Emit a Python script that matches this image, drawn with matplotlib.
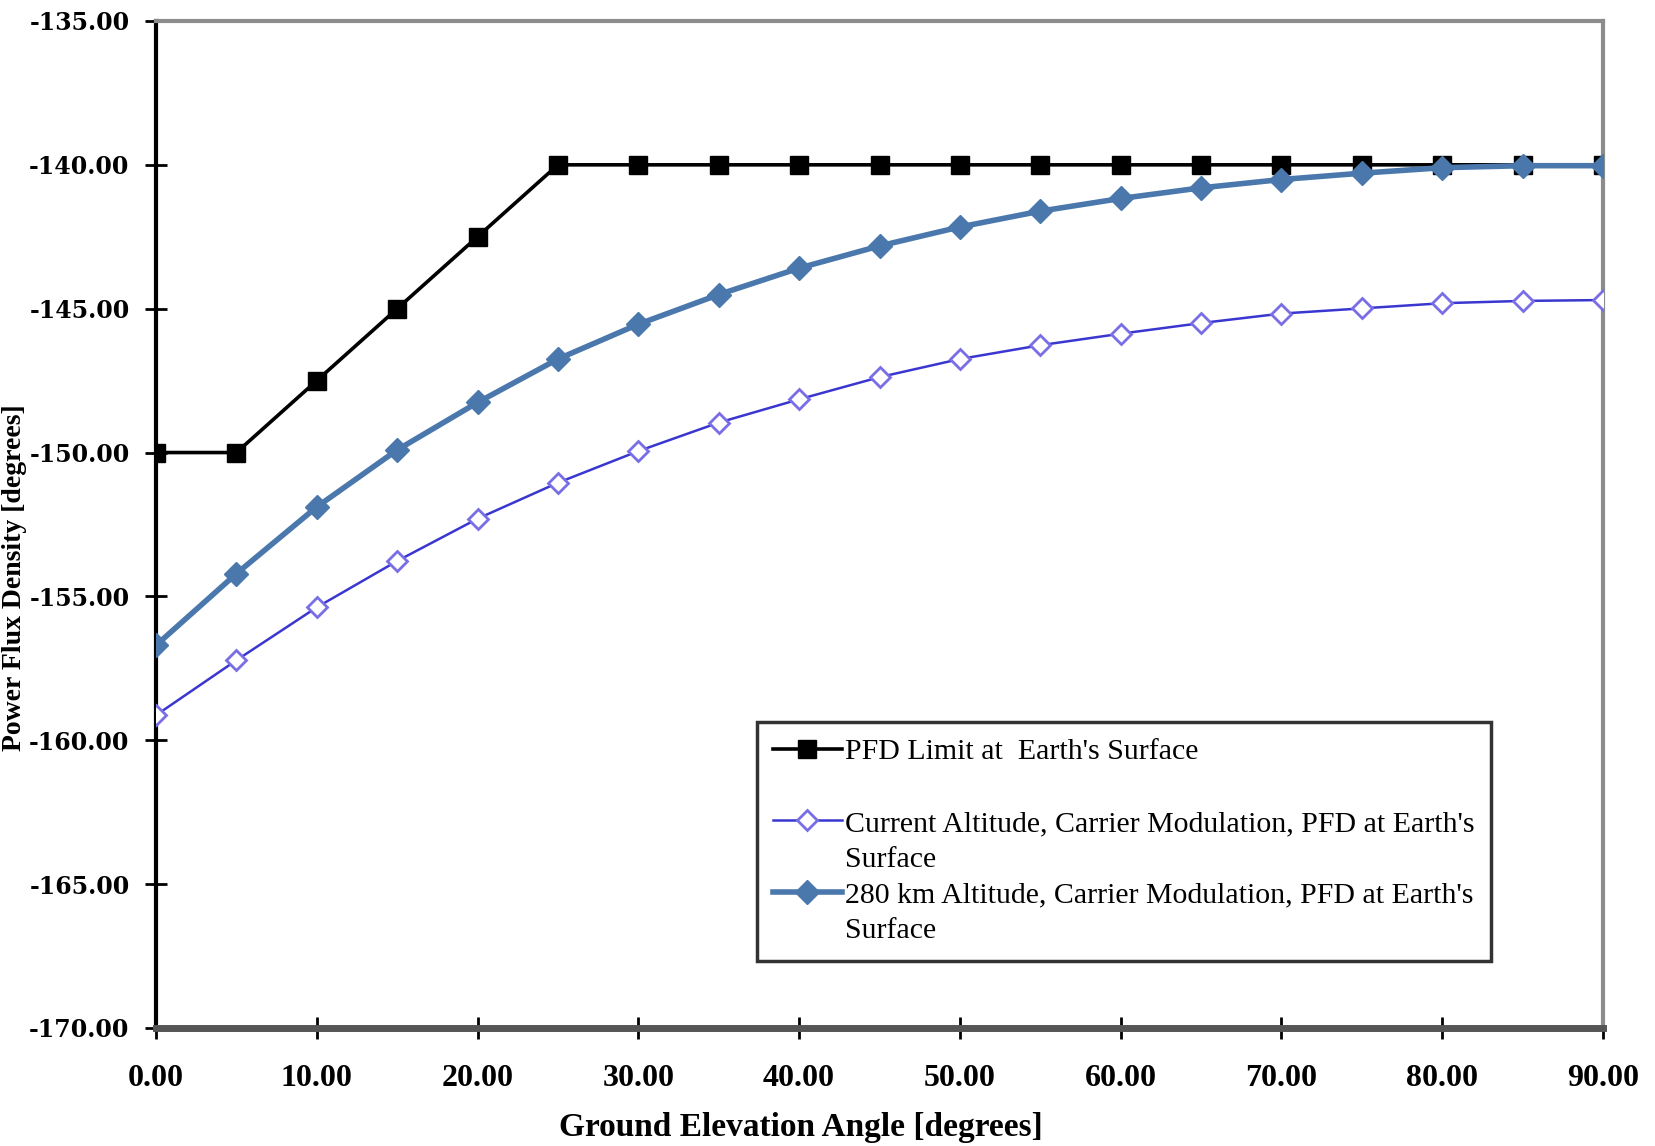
# PFD vs GROUND ELEVATION ANGLE
# -----------------------------

import matplotlib.pyplot as plt
from matplotlib.lines import Line2D

# DATA
# ----
elev = [0, 5, 10, 15, 20, 25, 30, 35, 40, 45, 50, 55, 60, 65, 70, 75, 80, 85, 90]

pfd_limit = [-150.00, -150.00, -147.50, -145.00, -142.50, -140.00, -140.00,
             -140.00, -140.00, -140.00, -140.00, -140.00, -140.00, -140.00,
             -140.00, -140.00, -140.00, -140.00, -140.00]

pfd_current = [-159.13, -157.22, -155.38, -153.77, -152.30, -151.05, -149.95,
               -148.96, -148.15, -147.38, -146.75, -146.27, -145.87, -145.50,
               -145.17, -144.99, -144.81, -144.73, -144.70]

pfd_280km = [-156.70, -154.21, -151.89, -149.91, -148.26, -146.75, -145.54,
             -144.51, -143.59, -142.82, -142.16, -141.61, -141.17, -140.80,
             -140.51, -140.29, -140.10, -140.03, -140.03]

lbl_limit = "PFD Limit at  Earth's Surface"
lbl_current = ["Current Altitude, Carrier Modulation, PFD at Earth's", "Surface"]
lbl_280 = ["280 km Altitude, Carrier Modulation, PFD at Earth's", "Surface"]

x_ticks = [0, 10, 20, 30, 40, 50, 60, 70, 80, 90]
y_ticks = [-170, -165, -160, -155, -150, -145, -140, -135]

# STYLE
# -----
serif = ['Liberation Serif', 'DejaVu Serif']
c_black = 'black'
c_current = '#3a36d0'
c_current_mk = '#7a6ee6'
c_280 = '#4a78ad'

fig = plt.figure(figsize=(16.56, 11.46), dpi=100)
ax = fig.add_axes([0.0942, 0.103, 0.8738, 0.8787])

# SERIES
# ------
ax.plot(elev, pfd_limit, color=c_black, lw=2.6, marker='s', ms=13.5,
        mfc=c_black, mec=c_black, zorder=3)
ax.plot(elev, pfd_current, color=c_current, lw=1.8, marker='D', ms=10,
        mfc='white', mec=c_current_mk, mew=2, zorder=4)
ax.plot(elev, pfd_280km, color=c_280, lw=4, marker='D', ms=12.5,
        mfc=c_280, mec=c_280, zorder=5)

# AXES FORMATTING
# ---------------
ax.set_xlim(0, 90)
ax.set_ylim(-170, -135)
ax.set_xticks(x_ticks)
ax.set_yticks(y_ticks)
ax.set_xticklabels([f"{v:.2f}" for v in x_ticks], fontfamily=serif,
                   fontweight='bold', fontsize=23)
ax.set_yticklabels([f"{v:.2f}" for v in y_ticks], fontfamily=['DejaVu Serif'],
                   fontweight='bold', fontsize=17)
ax.tick_params(axis='both', direction='inout', length=16, width=2,
               color='black')
ax.tick_params(axis='x', pad=18)
ax.tick_params(axis='y', pad=11)

ax.spines['left'].set_color('black')
ax.spines['left'].set_linewidth(3)
ax.spines['bottom'].set_color('#555555')
ax.spines['bottom'].set_linewidth(5)
ax.spines['top'].set_color('#8c8c8c')
ax.spines['top'].set_linewidth(3)
ax.spines['right'].set_color('#8c8c8c')
ax.spines['right'].set_linewidth(3)

ax.set_xlabel("Ground Elevation Angle [degrees]", fontfamily=serif,
              fontweight='bold', fontsize=24)
ax.xaxis.set_label_coords(0.446, -0.083)
fig.text(0.009, 0.496, "Power Flux Density [degrees]", rotation=90,
         ha='center', va='center', fontfamily=serif, fontweight='bold',
         fontsize=20)

# LEGEND (one entry per text line, like the original)
# ---------------------------------------------------
blank = Line2D([], [], color='none')
h_limit = Line2D([], [], color=c_black, lw=2.6, marker='s', ms=13.5)
h_current = Line2D([], [], color=c_current, lw=1.8, marker='D', ms=10,
                   mfc='white', mec=c_current_mk, mew=2)
h_280 = Line2D([], [], color=c_280, lw=4, marker='D', ms=12.5)

leg = ax.legend([h_limit, blank, h_current, blank, h_280, blank],
                [lbl_limit, " ", lbl_current[0], lbl_current[1],
                 lbl_280[0], lbl_280[1]],
                loc='upper left', bbox_to_anchor=(0.415, 0.304),
                prop={'family': serif, 'size': 21.5}, frameon=True,
                fancybox=False, edgecolor='black', handlelength=2.3,
                handletextpad=0.1, labelspacing=0.3, borderpad=0.55,
                borderaxespad=0)
leg.get_frame().set_linewidth(2.5)

fig.savefig('out.png', dpi=100)
